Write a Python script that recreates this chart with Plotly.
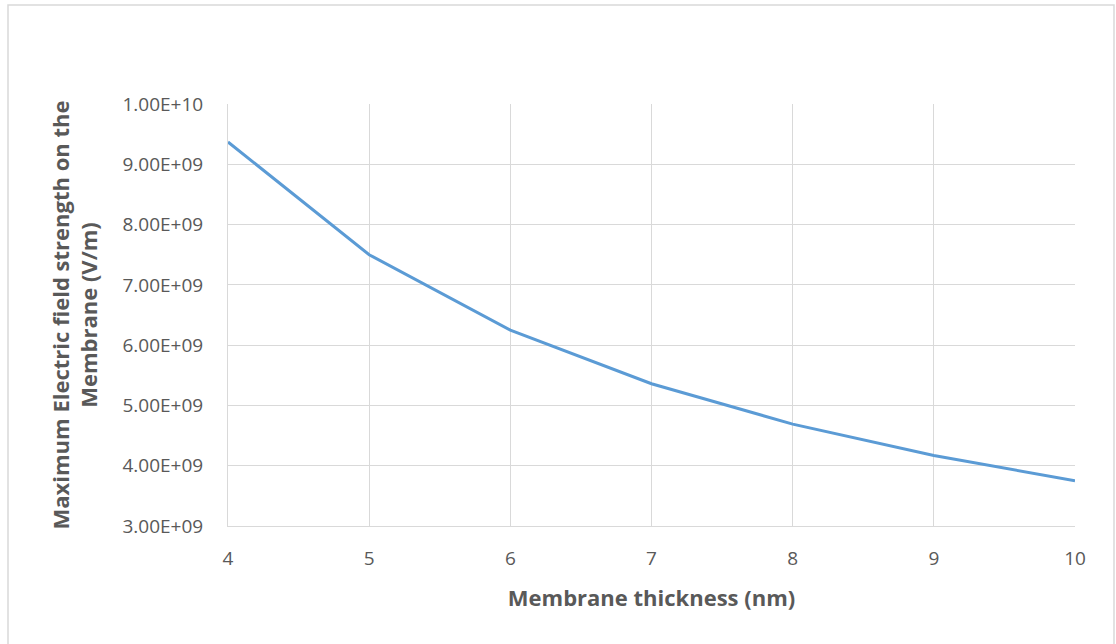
import plotly.graph_objects as go

thickness_nm = [4, 5, 6, 7, 8, 9, 10]
max_field_vm = [9.37e9, 7.50e9, 6.25e9, 5.36e9, 4.69e9, 4.17e9, 3.75e9]
y_tick_vals = [3e9, 4e9, 5e9, 6e9, 7e9, 8e9, 9e9, 1e10]
y_tick_text = ["3.00E+09", "4.00E+09", "5.00E+09", "6.00E+09", "7.00E+09", "8.00E+09", "9.00E+09", "1.00E+10"]
x_tick_vals = [4, 5, 6, 7, 8, 9, 10]

txt = "#595959"
grid = "#d9d9d9"
font = "Open Sans"

fig = go.Figure()
fig.add_trace(go.Scatter(x=thickness_nm, y=max_field_vm, mode="lines",
                         line=dict(color="#5B9BD5", width=3), showlegend=False))

L, R, T, B = 228, 41, 104, 118
W, H = 1116, 644
pw, ph = W - L - R, H - T - B

fig.update_layout(
    width=W, height=H,
    margin=dict(l=L, r=R, t=T, b=B),
    paper_bgcolor="white", plot_bgcolor="white",
    font=dict(family=font, size=18, color=txt),
    xaxis=dict(range=[4, 10], tickvals=x_tick_vals, showgrid=True, gridcolor=grid, gridwidth=1,
               showline=True, linecolor=grid, linewidth=1, zeroline=False,
               ticklabelstandoff=15, tickfont=dict(size=19, color=txt),
               title=dict(text="<b>Membrane thickness (nm)</b>", font=dict(size=22, color=txt), standoff=20)),
    yaxis=dict(range=[3e9, 1e10], tickvals=y_tick_vals, ticktext=y_tick_text, showgrid=True,
               gridcolor=grid, gridwidth=1, showline=True, linecolor=grid, linewidth=1, zeroline=False,
               ticklabelstandoff=20, tickfont=dict(size=19, color=txt),
               title=dict(text="<b>Maximum Electric field strength on the<br>Membrane (V/m)</b>",
                          font=dict(size=22, color=txt), standoff=18)),
    shapes=[dict(type="rect", xref="paper", yref="paper",
                 x0=(8 - L) / pw, x1=(1114 - L) / pw,
                 y0=(H - B - 660) / ph, y1=(H - B - 5) / ph,
                 line=dict(color=grid, width=1.5), fillcolor="rgba(0,0,0,0)", layer="below")],
)

fig.write_html("out.html", config={"displayModeBar": False},
               post_script="document.body.style.margin='0px';document.body.style.overflow='hidden';")
